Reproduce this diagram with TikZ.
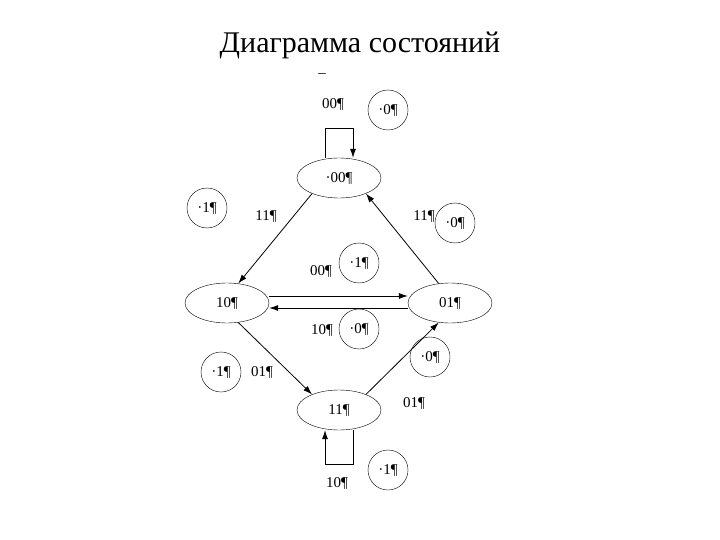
\documentclass[tikz,border=0pt]{standalone}
\usepackage{fontspec}
\setmainfont{Liberation Serif}
\usetikzlibrary{shapes.geometric,arrows.meta}
\begin{document}
\begin{tikzpicture}[x=1pt,y=-1pt,
 st/.style={draw,ellipse,minimum width=84pt,minimum height=40pt,inner sep=0pt,font=\fontsize{15}{15}\selectfont},
 cr/.style={draw,circle,minimum size=40pt,inner sep=0pt,font=\fontsize{15}{15}\selectfont},
 lb/.style={inner sep=0pt,font=\fontsize{15}{15}\selectfont},
 ar/.style={-{Latex[length=9pt,width=6pt]},line width=0.8pt}]
\useasboundingbox (0,0) rectangle (720,540);
\node[lb,font=\fontsize{30}{30}\selectfont] (title) at (360,45) {Диаграмма состояний};
\node[lb] (dash) at (322,76) {–};
\node[st] (s00) at (339,178) {·00¶};
\node[st] (s10) at (227,303) {10¶};
\node[st] (s01) at (450,303) {01¶};
\node[st] (s11) at (339,410) {11¶};
\node[cr] (c1) at (388,110) {·0¶};
\node[cr] (c2) at (207,208) {·1¶};
\node[cr] (c3) at (455,223) {·0¶};
\node[cr] (c4) at (359,263) {·1¶};
\node[cr] (c5) at (359,329) {·0¶};
\node[cr] (c6) at (221,372) {·1¶};
\node[cr] (c7) at (430,357) {·0¶};
\node[cr] (c8) at (388,470) {·1¶};
\node[lb] (l1) at (333,104) {00¶};
\node[lb] (l2) at (266,216) {11¶};
\node[lb] (l3) at (424,216) {11¶};
\node[lb] (l4) at (321,271) {00¶};
\node[lb] (l5) at (322,330) {10¶};
\node[lb] (l6) at (262,372) {01¶};
\node[lb] (l7) at (414,403) {01¶};
\node[lb] (l8) at (337,483) {10¶};
\draw[ar] (s00.210) -- (s10.60);
\draw[ar] (s01.120) -- (s00.-30);
\draw[ar] ([yshift=-5pt]s01.west) -- ([yshift=-5pt]s10.east);
\draw[ar] ([yshift=7pt]s10.east) -- ([yshift=7pt]s01.west);
\draw[ar] (s10.-60) -- (s11.150);
\draw[ar] (s11.30) -- (s01.-120);
\draw[ar] ([xshift=-14pt]s00.north) -- ++(0,-29) -| ([xshift=14pt]s00.north);
\draw[ar] ([xshift=14pt]s11.south) -- ++(0,34) -| ([xshift=-14pt]s11.south);
\end{tikzpicture}
\end{document}
